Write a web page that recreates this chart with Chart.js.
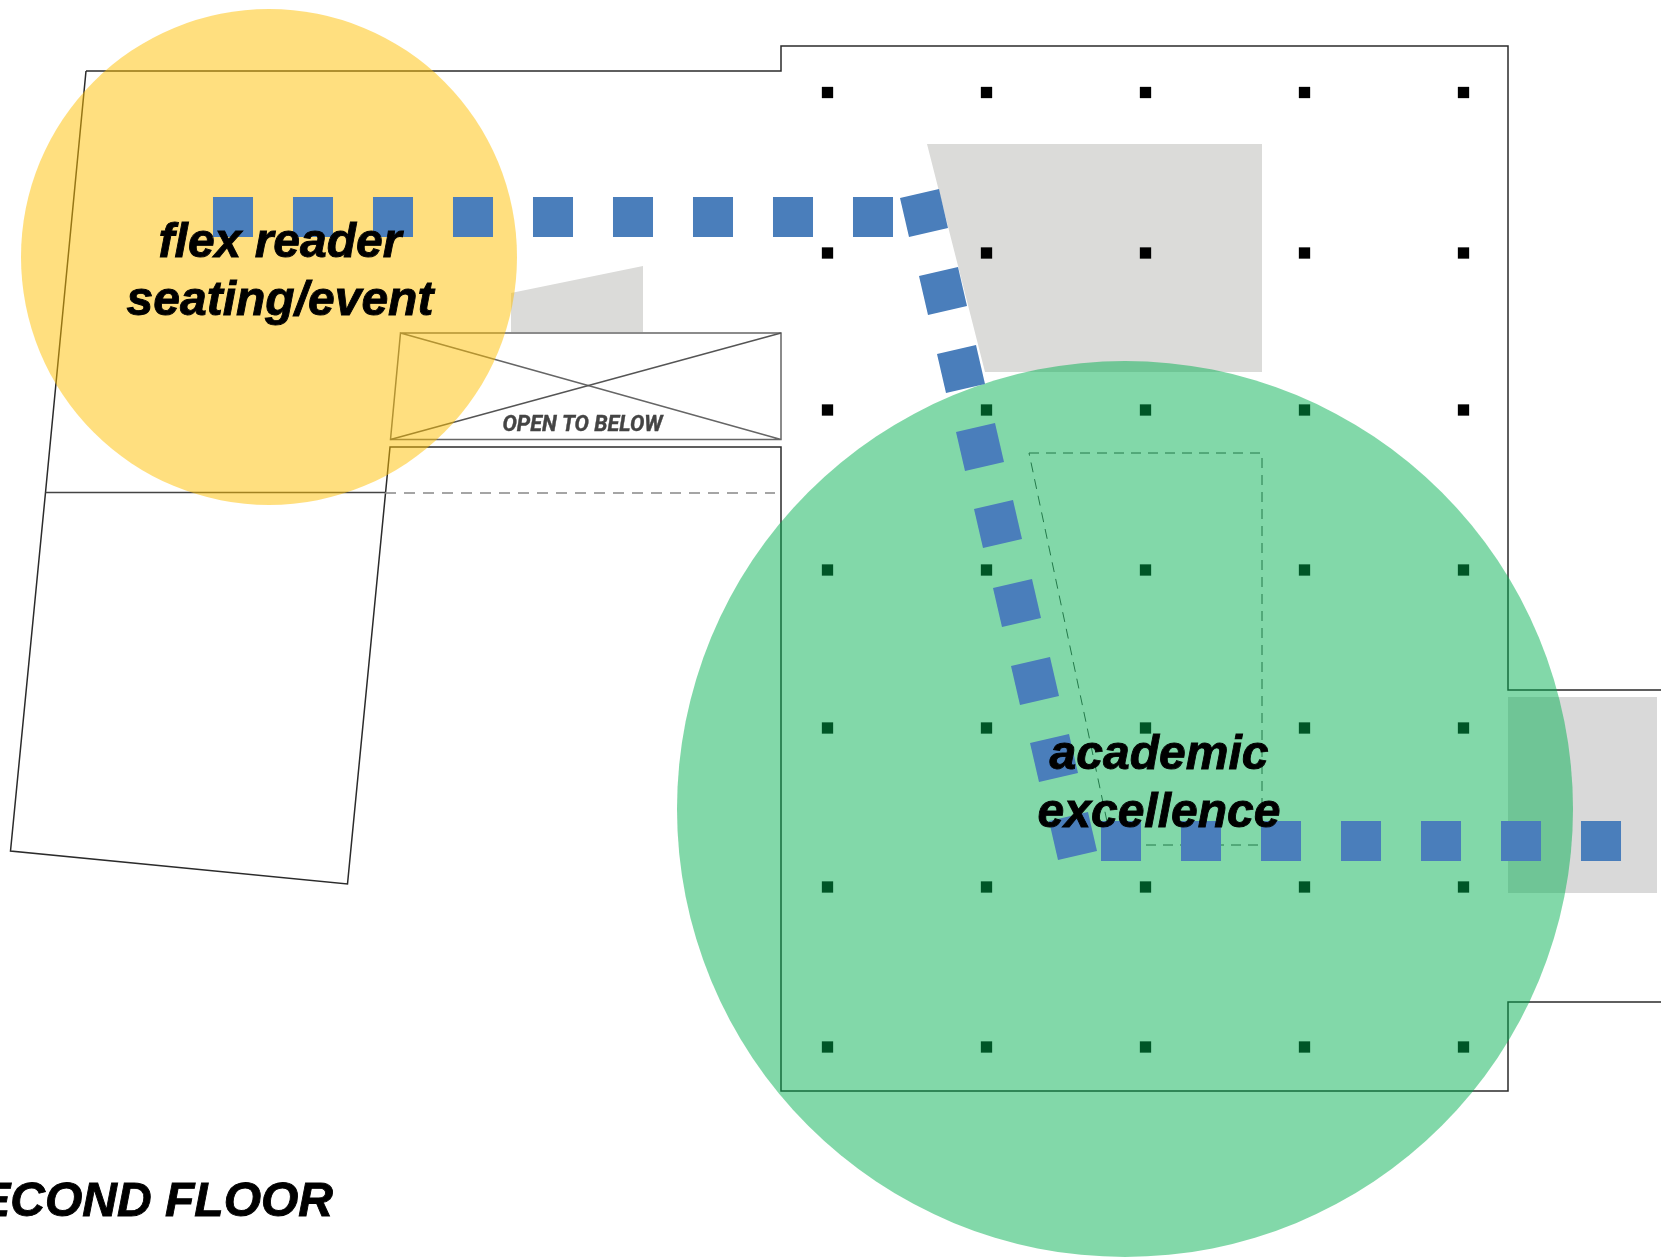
<!DOCTYPE html>
<html>
<head>
<meta charset="utf-8">
<title>Second floor</title>
<script src="https://cdn.jsdelivr.net/npm/chart.js@4"></script>
<style>
  html, body { margin: 0; padding: 0; background: #fff; overflow: hidden; }
  canvas { display: block; }
</style>
</head>
<body>
<canvas id="floorChart" width="1661" height="1258"></canvas>
<script>
// floor plan values
const columnX = [827.5, 986.5, 1145.5, 1304.5, 1463.5];
const columnY = [92.5, 253, 410, 570, 728, 887, 1047];

const pathTopX = [233, 313, 393, 473, 553, 633, 713, 793, 873];
const pathTopY = [217, 217, 217, 217, 217, 217, 217, 217, 217];
const pathSlantX = [924, 943, 961, 980, 998, 1017, 1035, 1054, 1073];
const pathSlantY = [213, 291, 369, 447, 524, 603, 681, 758, 836];
const pathBottomX = [1121, 1201, 1281, 1361, 1441, 1521, 1601];
const pathBottomY = [841, 841, 841, 841, 841, 841, 841];

const outlineX = [86, 781, 781, 1508, 1508, 1661];
const outlineY = [71, 71, 46, 46, 690, 690];
const outlineLowerX = [1661, 1508, 1508, 781, 781, 390, 347.5, 10.5, 45.5, 86];
const outlineLowerY = [1002, 1002, 1091, 1091, 447, 447, 884, 851, 492.5, 71];
const midLineX = [45.5, 385];
const midLineY = [492.5, 492.5];
const midDashX = [385, 775];
const midDashY = [493, 493];

// box outline, then the first diagonal of the X
const openBoxX = [400.5, 781, 781, 390.5, 400.5, 781];
const openBoxY = [333, 333, 439.5, 439.5, 333, 439.5];
// second diagonal of the X
const openCrossX = [390.5, 781];
const openCrossY = [439.5, 333];

const shaftX = [1029, 1262, 1262, 1112, 1029];
const shaftY = [453, 453, 845, 845, 453];

const greyLargeX = [927, 1262, 1262, 985, 927];
const greyLargeY = [144, 144, 372, 372, 144];
const greySmallX = [511, 643, 643, 511, 511];
const greySmallY = [293, 266, 332, 332, 293];
const greyRightX = [1508, 1657, 1657, 1508, 1508];
const greyRightY = [697, 697, 893, 893, 697];

const flexCircle = [269, 257];
const academicCircle = [1125, 809];

const labelText = ['flex reader', 'seating/event', 'academic', 'excellence', 'OPEN TO BELOW', 'SECOND FLOOR'];
const labelX = [280, 280, 1159, 1159, 582.5, 333];
const labelY = [257, 315, 769, 827, 431, 1216];

const zip = (xs, ys) => xs.map((x, i) => ({ x, y: ys[i] }));

const columnPoints = [];
for (const y of columnY) {
    for (const x of columnX) columnPoints.push({ x, y });
}

function polyLine(xs, ys, color, width, dash) {
    return {
        data: zip(xs, ys),
        showLine: true,
        borderColor: color,
        borderWidth: width,
        borderDash: dash || [],
        pointRadius: 0,
        fill: false
    };
}

function polyFill(xs, ys, color) {
    return {
        data: zip(xs, ys),
        showLine: true,
        borderWidth: 0,
        borderColor: color,
        backgroundColor: color,
        pointRadius: 0,
        fill: 'shape'
    };
}

function marks(points, style, radius, color, rotation) {
    return {
        data: points,
        showLine: false,
        pointStyle: style,
        pointRadius: radius,
        pointBackgroundColor: color,
        pointBorderWidth: 0,
        pointRotation: rotation || 0
    };
}

// bottom to top
const layers = [
    polyFill(greyLargeX, greyLargeY, '#dbdbd9'),
    polyFill(greySmallX, greySmallY, '#dbdbd9'),
    polyFill(greyRightX, greyRightY, '#d9d9d9'),
    polyLine(outlineX, outlineY, '#2b2b2b', 1.5),
    polyLine(outlineLowerX, outlineLowerY, '#2b2b2b', 1.5),
    polyLine(midLineX, midLineY, '#444444', 1.5),
    polyLine(midDashX, midDashY, '#888888', 1.5, [11, 8]),
    polyLine(openBoxX, openBoxY, '#666666', 1.5),
    polyLine(openCrossX, openCrossY, '#555555', 1.5),
    polyLine(shaftX, shaftY, '#444444', 1, [10, 7]),
    marks(columnPoints, 'rect', 8, '#000000'),
    marks([{ x: flexCircle[0], y: flexCircle[1] }], 'circle', 248, 'rgba(255, 192, 0, 0.5)'),
    marks([{ x: academicCircle[0], y: academicCircle[1] }], 'circle', 448, 'rgba(0, 176, 80, 0.49)'),
    marks(zip(pathTopX, pathTopY), 'rect', 28.3, '#4a7ebb'),
    marks(zip(pathSlantX, pathSlantY), 'rect', 28.3, '#4a7ebb', -13),
    marks(zip(pathBottomX, pathBottomY), 'rect', 28.3, '#4a7ebb')
];
layers.forEach((d, i) => { d.order = layers.length - i; });

const labelPlugin = {
    id: 'planLabels',
    afterDatasetsDraw(chart) {
        const { ctx, scales } = chart;
        ctx.save();
        labelText.forEach((text, i) => {
            const small = text === 'OPEN TO BELOW';
            const x = scales.x.getPixelForValue(labelX[i]);
            const y = scales.y.getPixelForValue(labelY[i]);
            ctx.font = small ? 'italic bold 21.5px Roboto' : 'italic bold 48px "Liberation Sans"';
            ctx.fillStyle = small ? '#444444' : '#000000';
            ctx.textAlign = text === 'SECOND FLOOR' ? 'right' : 'center';
            ctx.textBaseline = 'alphabetic';
            ctx.fillText(text, x, y);
            // the original lettering is a bit heavier than the plain bold
            ctx.strokeStyle = ctx.fillStyle;
            ctx.lineWidth = small ? 0.4 : 0.9;
            ctx.strokeText(text, x, y);
        });
        ctx.restore();
    }
};

new Chart(document.getElementById('floorChart').getContext('2d'), {
    type: 'scatter',
    data: { datasets: layers },
    options: {
        responsive: false,
        animation: false,
        devicePixelRatio: 1,
        // the big circles would otherwise shrink the plot area
        layout: { padding: 0, autoPadding: false },
        plugins: { legend: { display: false }, tooltip: { enabled: false } },
        scales: {
            x: { type: 'linear', min: 0, max: 1661, display: false },
            y: { type: 'linear', min: 0, max: 1258, reverse: true, display: false }
        }
    },
    plugins: [labelPlugin]
});
</script>
</body>
</html>
